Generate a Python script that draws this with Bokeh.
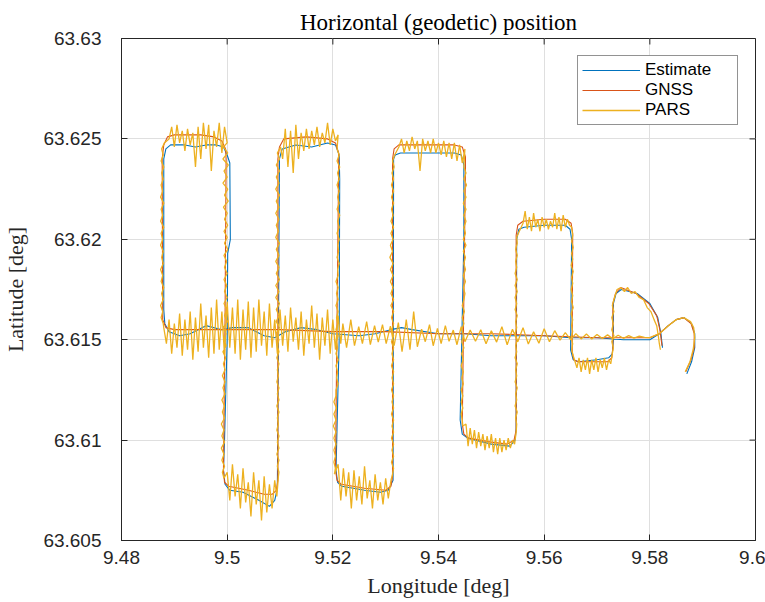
from bokeh.plotting import figure
from bokeh.models import FixedTicker, CustomJSTickFormatter, Legend, LegendItem
from bokeh.embed import file_html
from bokeh.resources import INLINE

# ---------------- data ----------------
x_ticks = [9.48, 9.50, 9.52, 9.54, 9.56, 9.58, 9.60]
y_ticks = [63.605, 63.61, 63.615, 63.62, 63.625, 63.63]
series_names = ["Estimate", "GNSS", "PARS"]

est_path = [
    (9.5870, 63.6133), (9.5879, 63.6139), (9.5885, 63.6146), (9.5885, 63.6153),
    (9.5879, 63.6158), (9.5865, 63.6161), (9.5850, 63.6160), (9.5835, 63.6157),
    (9.5818, 63.6153), (9.5800, 63.6150), (9.5750, 63.6150), (9.5700, 63.6151),
    (9.5650, 63.6151), (9.5600, 63.6152), (9.5550, 63.6152), (9.5500, 63.6152),
    (9.5450, 63.6153), (9.5400, 63.6153), (9.5350, 63.6155), (9.5330, 63.6156),
    (9.5310, 63.6155), (9.5280, 63.6153), (9.5250, 63.6152), (9.5200, 63.6153),
    (9.5170, 63.6155), (9.5140, 63.6156), (9.5110, 63.6154), (9.5090, 63.6151),
    (9.5070, 63.6152), (9.5040, 63.6156), (9.5010, 63.6156), (9.4990, 63.6155),
    (9.4960, 63.6157), (9.4930, 63.6153), (9.4910, 63.6152), (9.4890, 63.6154),
    (9.4882, 63.6158), (9.4880, 63.6165), (9.4880, 63.6240), (9.4884, 63.6245),
    (9.4893, 63.6247), (9.4920, 63.6247), (9.4940, 63.6246), (9.4960, 63.6247),
    (9.4980, 63.6247), (9.4993, 63.6246), (9.5000, 63.6242), (9.5005, 63.6238),
    (9.5006, 63.6200), (9.5001, 63.6193), (9.5000, 63.6150), (9.4995, 63.6100),
    (9.4993, 63.6085), (9.4996, 63.6078), (9.5005, 63.6075), (9.5030, 63.6074),
    (9.5060, 63.6070), (9.5080, 63.6067), (9.5090, 63.6070), (9.5095, 63.6076),
    (9.5097, 63.6150), (9.5099, 63.6240), (9.5104, 63.6245), (9.5130, 63.6247),
    (9.5160, 63.6246), (9.5190, 63.6248), (9.5205, 63.6247), (9.5212, 63.6242),
    (9.5213, 63.6230), (9.5212, 63.6150), (9.5206, 63.6085), (9.5209, 63.6079),
    (9.5217, 63.6077), (9.5260, 63.6075), (9.5290, 63.6074), (9.5305, 63.6075),
    (9.5314, 63.6080), (9.5315, 63.6240), (9.5318, 63.6242), (9.5328, 63.6243),
    (9.5380, 63.6243), (9.5430, 63.6243), (9.5443, 63.6242), (9.5448, 63.6237),
    (9.5448, 63.6200), (9.5441, 63.6110), (9.5445, 63.6103), (9.5455, 63.6101),
    (9.5500, 63.6098), (9.5535, 63.6097), (9.5545, 63.6100), (9.5547, 63.6106),
    (9.5548, 63.6200), (9.5552, 63.6205), (9.5562, 63.6206), (9.5600, 63.6207),
    (9.5640, 63.6207), (9.5649, 63.6205), (9.5652, 63.6200), (9.5650, 63.6145),
    (9.5655, 63.6140), (9.5665, 63.6139), (9.5700, 63.6140), (9.5722, 63.6141),
    (9.5729, 63.6143), (9.5731, 63.6150), (9.5731, 63.6168), (9.5736, 63.6173),
    (9.5746, 63.6175), (9.5776, 63.6173), (9.5800, 63.6168), (9.5815, 63.6161),
    (9.5821, 63.6153), (9.5824, 63.6146),
]

gnss_path = [
    (9.5868, 63.6134), (9.5878, 63.6140), (9.5884, 63.6146), (9.5884, 63.6153),
    (9.5878, 63.6158), (9.5864, 63.6161), (9.5850, 63.6160), (9.5835, 63.6157),
    (9.5818, 63.6153), (9.5800, 63.6151), (9.5700, 63.6151), (9.5600, 63.6152),
    (9.5500, 63.6153), (9.5400, 63.6153), (9.5300, 63.6154), (9.5200, 63.6154),
    (9.5100, 63.6155), (9.5000, 63.6155), (9.4900, 63.6155), (9.4884, 63.6156),
    (9.4878, 63.6160), (9.4877, 63.6240), (9.4880, 63.6247), (9.4887, 63.6251),
    (9.4900, 63.6252), (9.4950, 63.6252), (9.4975, 63.6251), (9.4990, 63.6249),
    (9.4997, 63.6245), (9.4998, 63.6240), (9.4996, 63.6160), (9.4993, 63.6085),
    (9.4995, 63.6079), (9.5003, 63.6077), (9.5040, 63.6075), (9.5070, 63.6073),
    (9.5085, 63.6073), (9.5093, 63.6075), (9.5096, 63.6080), (9.5096, 63.6240),
    (9.5099, 63.6246), (9.5107, 63.6250), (9.5150, 63.6251), (9.5190, 63.6250),
    (9.5205, 63.6248), (9.5211, 63.6243), (9.5211, 63.6236), (9.5205, 63.6085),
    (9.5208, 63.6080), (9.5216, 63.6078), (9.5260, 63.6076), (9.5300, 63.6075),
    (9.5310, 63.6077), (9.5313, 63.6082), (9.5313, 63.6240), (9.5316, 63.6245),
    (9.5325, 63.6247), (9.5380, 63.6247), (9.5430, 63.6247), (9.5445, 63.6246),
    (9.5451, 63.6241), (9.5451, 63.6235), (9.5445, 63.6108), (9.5448, 63.6103),
    (9.5457, 63.6101), (9.5500, 63.6099), (9.5530, 63.6098), (9.5543, 63.6100),
    (9.5547, 63.6105), (9.5547, 63.6202), (9.5550, 63.6207), (9.5560, 63.6209),
    (9.5600, 63.6210), (9.5640, 63.6210), (9.5651, 63.6208), (9.5654, 63.6203),
    (9.5653, 63.6144), (9.5656, 63.6140), (9.5664, 63.6139), (9.5700, 63.6139),
    (9.5720, 63.6139), (9.5728, 63.6141), (9.5730, 63.6146), (9.5730, 63.6168),
    (9.5735, 63.6173), (9.5745, 63.6176), (9.5774, 63.6173), (9.5798, 63.6168),
    (9.5813, 63.6162), (9.5819, 63.6155), (9.5823, 63.6147),
]

# PARS, segment by segment along the travelled path
pars_curve = [
    (9.5867, 63.6134), (9.5876, 63.6139), (9.5882, 63.6145), (9.5885, 63.6151),
    (9.5883, 63.6156), (9.5877, 63.6159), (9.5864, 63.6161), (9.5850, 63.6160),
    (9.5835, 63.6157), (9.5818, 63.6153), (9.5800, 63.6151),
]
pars_main_east = [
    (9.579, 63.61512), (9.578, 63.61518), (9.577, 63.61508), (9.576, 63.61520),
    (9.575, 63.61507), (9.574, 63.61522), (9.573, 63.61505), (9.572, 63.61524),
    (9.571, 63.61506), (9.570, 63.61526), (9.569, 63.61503), (9.568, 63.61528),
    (9.567, 63.61504), (9.566, 63.61530), (9.565, 63.61500), (9.564, 63.61535),
    (9.563, 63.61498), (9.562, 63.61545), (9.561, 63.61490), (9.560, 63.61555),
    (9.559, 63.61482), (9.558, 63.61540), (9.557, 63.61478), (9.556, 63.61560),
    (9.555, 63.61490), (9.554, 63.61552), (9.553, 63.61475), (9.552, 63.61565),
    (9.551, 63.61488), (9.550, 63.61545), (9.549, 63.61480), (9.548, 63.61550),
    (9.547, 63.61492), (9.546, 63.61548),
]
pars_main_mid = [
    (9.5450, 63.61490), (9.5443, 63.61565), (9.5435, 63.61475), (9.5428, 63.61548),
    (9.5420, 63.61492), (9.5413, 63.61570), (9.5405, 63.61480), (9.5398, 63.61556),
    (9.5390, 63.61470), (9.5383, 63.61575), (9.5375, 63.61490), (9.5368, 63.61552),
    (9.5360, 63.61465), (9.5353, 63.61640), (9.5346, 63.61450), (9.5339, 63.61600),
    (9.5331, 63.61440), (9.5324, 63.61585), (9.5316, 63.61470), (9.5309, 63.61568),
    (9.5301, 63.61480), (9.5294, 63.61575), (9.5286, 63.61488), (9.5279, 63.61570),
    (9.5271, 63.61475), (9.5264, 63.61590), (9.5256, 63.61480), (9.5249, 63.61565),
    (9.5241, 63.61470), (9.5234, 63.61600), (9.5226, 63.61460), (9.5219, 63.61580),
]
pars_main_west = [
    (9.5215, 63.61480), (9.5210, 63.61620), (9.5205, 63.61450), (9.5200, 63.61600),
    (9.5195, 63.61430), (9.5190, 63.61650), (9.5185, 63.61470), (9.5180, 63.61610),
    (9.5175, 63.61400), (9.5170, 63.61630), (9.5165, 63.61460), (9.5160, 63.61670),
    (9.5155, 63.61480), (9.5150, 63.61600), (9.5145, 63.61420), (9.5140, 63.61640),
    (9.5135, 63.61450), (9.5130, 63.61610), (9.5125, 63.61490), (9.5120, 63.61660),
    (9.5115, 63.61440), (9.5110, 63.61620), (9.5105, 63.61470), (9.5100, 63.61650),
    (9.5095, 63.61430), (9.5090, 63.61600), (9.5085, 63.61460), (9.5080, 63.61680),
    (9.5075, 63.61420), (9.5070, 63.61640), (9.5065, 63.61470), (9.5060, 63.61700),
    (9.5055, 63.61440), (9.5050, 63.61660), (9.5045, 63.61410), (9.5040, 63.61690),
    (9.5035, 63.61450), (9.5030, 63.61650), (9.5025, 63.61400), (9.5020, 63.61700),
    (9.5015, 63.61430), (9.5010, 63.61660), (9.5005, 63.61460), (9.5000, 63.61690),
    (9.4995, 63.61420), (9.4990, 63.61640), (9.4985, 63.61450), (9.4980, 63.61700),
    (9.4975, 63.61430), (9.4970, 63.61660), (9.4965, 63.61410), (9.4960, 63.61620),
    (9.4955, 63.61460), (9.4950, 63.61680), (9.4945, 63.61440), (9.4940, 63.61610),
    (9.4935, 63.61400), (9.4930, 63.61640), (9.4925, 63.61450), (9.4920, 63.61600),
    (9.4915, 63.61420), (9.4910, 63.61630), (9.4905, 63.61460), (9.4900, 63.61580),
    (9.4895, 63.61430), (9.4890, 63.61600), (9.4885, 63.61480), (9.4880, 63.61560),
]

# vertical legs: lat samples and the jittering lon read along each leg
pars_v1_lat = [63.6158, 63.6161, 63.6164, 63.6167, 63.6170, 63.6173, 63.6176, 63.6179,
               63.6182, 63.6185, 63.6188, 63.6191, 63.6194, 63.6197, 63.6200, 63.6203,
               63.6206, 63.6209, 63.6212, 63.6215, 63.6218, 63.6221, 63.6224, 63.6227,
               63.6230, 63.6233, 63.6236, 63.6239, 63.6242, 63.6245, 63.6248]
pars_v1_lon = [9.4879, 9.4875, 9.4878, 9.4874, 9.4879, 9.4876, 9.4880, 9.4875,
               9.4878, 9.4874, 9.4879, 9.4876, 9.4879, 9.4874, 9.4878, 9.4875,
               9.4880, 9.4874, 9.4878, 9.4875, 9.4880, 9.4874, 9.4878, 9.4875,
               9.4879, 9.4876, 9.4880, 9.4875, 9.4879, 9.4876, 9.4881]

pars_v2_lat = [63.6246, 63.6243, 63.6240, 63.6237, 63.6234, 63.6231, 63.6228, 63.6225,
               63.6222, 63.6219, 63.6216, 63.6213, 63.6210, 63.6207, 63.6204, 63.6201,
               63.6198, 63.6195, 63.6192, 63.6189, 63.6186, 63.6183, 63.6180, 63.6177,
               63.6174, 63.6171, 63.6168, 63.6165, 63.6162, 63.6159, 63.6156, 63.6153,
               63.6150, 63.6147, 63.6144, 63.6141, 63.6138, 63.6135, 63.6132, 63.6129,
               63.6126, 63.6123, 63.6120, 63.6117, 63.6114, 63.6111, 63.6108, 63.6105,
               63.6102, 63.6099, 63.6096, 63.6093, 63.6090, 63.6087, 63.6084, 63.6081]
pars_v2_lon = [9.4993, 9.5001, 9.4992, 9.5002, 9.4994, 9.5000, 9.4992, 9.5001,
               9.4995, 9.5002, 9.4993, 9.5000, 9.4995, 9.5001, 9.4994, 9.5000,
               9.4995, 9.5001, 9.4994, 9.4999, 9.4995, 9.5000, 9.4994, 9.4999,
               9.4995, 9.5000, 9.4994, 9.4999, 9.4995, 9.5000, 9.4993, 9.4998,
               9.4994, 9.4998, 9.4992, 9.4997, 9.4993, 9.4996, 9.4991, 9.4996,
               9.4992, 9.4996, 9.4990, 9.4995, 9.4991, 9.4995, 9.4989, 9.4994,
               9.4990, 9.4995, 9.4989, 9.4994, 9.4990, 9.4995, 9.4991, 9.4994]

pars_v3_lat = [63.6084, 63.6087, 63.6090, 63.6093, 63.6096, 63.6099, 63.6102, 63.6105,
               63.6108, 63.6111, 63.6114, 63.6117, 63.6120, 63.6123, 63.6126, 63.6129,
               63.6132, 63.6135, 63.6138, 63.6141, 63.6144, 63.6147, 63.6150, 63.6153,
               63.6156, 63.6159, 63.6162, 63.6165, 63.6168, 63.6171, 63.6174, 63.6177,
               63.6180, 63.6183, 63.6186, 63.6189, 63.6192, 63.6195, 63.6198, 63.6201,
               63.6204, 63.6207, 63.6210, 63.6213, 63.6216, 63.6219, 63.6222, 63.6225,
               63.6228, 63.6231, 63.6234, 63.6237, 63.6240, 63.6243, 63.6246]
pars_v3_lon = [9.5098, 9.5095, 9.5098, 9.5094, 9.5098, 9.5095, 9.5098, 9.5094,
               9.5097, 9.5095, 9.5098, 9.5094, 9.5098, 9.5095, 9.5098, 9.5094,
               9.5097, 9.5095, 9.5098, 9.5094, 9.5098, 9.5095, 9.5098, 9.5093,
               9.5099, 9.5093, 9.5098, 9.5093, 9.5099, 9.5092, 9.5098, 9.5092,
               9.5099, 9.5093, 9.5098, 9.5092, 9.5098, 9.5093, 9.5099, 9.5092,
               9.5097, 9.5093, 9.5098, 9.5092, 9.5098, 9.5093, 9.5099, 9.5092,
               9.5098, 9.5093, 9.5099, 9.5093, 9.5099, 9.5095, 9.5101]

pars_v4_lat = [63.6245, 63.6242, 63.6239, 63.6236, 63.6233, 63.6230, 63.6227, 63.6224,
               63.6221, 63.6218, 63.6215, 63.6212, 63.6209, 63.6206, 63.6203, 63.6200,
               63.6197, 63.6194, 63.6191, 63.6188, 63.6185, 63.6182, 63.6179, 63.6176,
               63.6173, 63.6170, 63.6167, 63.6164, 63.6161, 63.6158, 63.6155, 63.6152,
               63.6149, 63.6146, 63.6143, 63.6140, 63.6137, 63.6134, 63.6131, 63.6128,
               63.6125, 63.6122, 63.6119, 63.6116, 63.6113, 63.6110, 63.6107, 63.6104,
               63.6101, 63.6098, 63.6095, 63.6092, 63.6089, 63.6086, 63.6083]
pars_v4_lon = [9.5208, 9.5212, 9.5208, 9.5213, 9.5209, 9.5212, 9.5208, 9.5212,
               9.5209, 9.5212, 9.5208, 9.5213, 9.5209, 9.5212, 9.5208, 9.5212,
               9.5209, 9.5211, 9.5208, 9.5212, 9.5209, 9.5210, 9.5206, 9.5210,
               9.5207, 9.5210, 9.5206, 9.5210, 9.5207, 9.5209, 9.5206, 9.5210,
               9.5207, 9.5209, 9.5206, 9.5210, 9.5206, 9.5209, 9.5207, 9.5210,
               9.5206, 9.5206, 9.5202, 9.5207, 9.5202, 9.5206, 9.5201, 9.5206,
               9.5202, 9.5206, 9.5202, 9.5205, 9.5202, 9.5205, 9.5203]

pars_v5_lat = [63.6086, 63.6089, 63.6092, 63.6095, 63.6098, 63.6101, 63.6104, 63.6107,
               63.6110, 63.6113, 63.6116, 63.6119, 63.6122, 63.6125, 63.6128, 63.6131,
               63.6134, 63.6137, 63.6140, 63.6143, 63.6146, 63.6149, 63.6152, 63.6155,
               63.6158, 63.6161, 63.6164, 63.6167, 63.6170, 63.6173, 63.6176, 63.6179,
               63.6182, 63.6185, 63.6188, 63.6191, 63.6194, 63.6197, 63.6200, 63.6203,
               63.6206, 63.6209, 63.6212, 63.6215, 63.6218, 63.6221, 63.6224, 63.6227,
               63.6230, 63.6233, 63.6236, 63.6239, 63.6242]
pars_v5_lon = [9.5315, 9.5311, 9.5315, 9.5312, 9.5315, 9.5311, 9.5315, 9.5312,
               9.5315, 9.5311, 9.5315, 9.5312, 9.5315, 9.5311, 9.5315, 9.5312,
               9.5315, 9.5311, 9.5315, 9.5312, 9.5315, 9.5311, 9.5315, 9.5312,
               9.5315, 9.5311, 9.5315, 9.5310, 9.5315, 9.5310, 9.5314, 9.5309,
               9.5314, 9.5309, 9.5314, 9.5308, 9.5313, 9.5309, 9.5314, 9.5310,
               9.5315, 9.5310, 9.5314, 9.5311, 9.5315, 9.5311, 9.5315, 9.5311,
               9.5315, 9.5312, 9.5316, 9.5313, 9.5317]

pars_v6_lat = [63.6236, 63.6233, 63.6230, 63.6227, 63.6224, 63.6221, 63.6218, 63.6215,
               63.6212, 63.6209, 63.6206, 63.6203, 63.6200, 63.6197, 63.6194, 63.6191,
               63.6188, 63.6185, 63.6182, 63.6179, 63.6176, 63.6173, 63.6170, 63.6167,
               63.6164, 63.6161, 63.6158, 63.6155, 63.6152, 63.6149, 63.6146, 63.6143,
               63.6140, 63.6137, 63.6134, 63.6131, 63.6128, 63.6125, 63.6122, 63.6119,
               63.6116, 63.6113, 63.6110, 63.6107]
pars_v6_lon = [9.5448, 9.5452, 9.5448, 9.5453, 9.5448, 9.5452, 9.5447, 9.5452,
               9.5448, 9.5452, 9.5448, 9.5451, 9.5447, 9.5452, 9.5447, 9.5451,
               9.5448, 9.5451, 9.5447, 9.5451, 9.5447, 9.5450, 9.5448, 9.5445,
               9.5449, 9.5445, 9.5448, 9.5444, 9.5448, 9.5444, 9.5448, 9.5444,
               9.5447, 9.5443, 9.5447, 9.5444, 9.5447, 9.5443, 9.5446, 9.5443,
               9.5446, 9.5443, 9.5445, 9.5446]

pars_v7_lat = [63.6108, 63.6111, 63.6114, 63.6117, 63.6120, 63.6123, 63.6126, 63.6129,
               63.6132, 63.6135, 63.6138, 63.6141, 63.6144, 63.6147, 63.6150, 63.6153,
               63.6156, 63.6159, 63.6162, 63.6165, 63.6168, 63.6171, 63.6174, 63.6177,
               63.6180, 63.6183, 63.6186, 63.6189, 63.6192, 63.6195, 63.6198, 63.6201,
               63.6204]
pars_v7_lon = [9.5548, 9.5546, 9.5549, 9.5545, 9.5548, 9.5546, 9.5549, 9.5545,
               9.5548, 9.5546, 9.5549, 9.5545, 9.5548, 9.5546, 9.5549, 9.5545,
               9.5548, 9.5546, 9.5549, 9.5545, 9.5548, 9.5545, 9.5549, 9.5545,
               9.5549, 9.5545, 9.5548, 9.5546, 9.5549, 9.5546, 9.5549, 9.5548,
               9.5553]

pars_v8_lat = [63.6202, 63.6199, 63.6196, 63.6193, 63.6190, 63.6187, 63.6184, 63.6181,
               63.6178, 63.6175, 63.6172, 63.6169, 63.6166, 63.6163, 63.6160, 63.6157,
               63.6154, 63.6151, 63.6148, 63.6145, 63.6142]
pars_v8_lon = [9.5654, 9.5652, 9.5655, 9.5652, 9.5654, 9.5651, 9.5655, 9.5652,
               9.5654, 9.5651, 9.5654, 9.5652, 9.5655, 9.5651, 9.5654, 9.5652,
               9.5654, 9.5651, 9.5654, 9.5652, 9.5655]

pars_v9_lat = [63.6146, 63.6149, 63.6152, 63.6155, 63.6158, 63.6161, 63.6164, 63.6167, 63.6170]
pars_v9_lon = [9.5731, 9.5728, 9.5732, 9.5728, 9.5731, 9.5728, 9.5732, 9.5729, 9.5732]

pars_top1 = [
    (9.4890, 63.6250), (9.4895, 63.6256), (9.4900, 63.6246), (9.4905, 63.6257),
    (9.4910, 63.6248), (9.4915, 63.6254), (9.4920, 63.6244), (9.4925, 63.6255),
    (9.4930, 63.6247), (9.4935, 63.6253), (9.4940, 63.6236), (9.4945, 63.6256),
    (9.4950, 63.6240), (9.4955, 63.6258), (9.4960, 63.6245), (9.4965, 63.6257),
    (9.4970, 63.6234), (9.4975, 63.6254), (9.4980, 63.6246), (9.4985, 63.6258),
    (9.4990, 63.6243), (9.4995, 63.6256), (9.5000, 63.6248),
]
pars_bot1 = [
    (9.5000, 63.6084), (9.5005, 63.6070), (9.5010, 63.6088), (9.5015, 63.6072),
    (9.5020, 63.6083), (9.5025, 63.6066), (9.5030, 63.6086), (9.5035, 63.6069),
    (9.5040, 63.6079), (9.5045, 63.6062), (9.5050, 63.6084), (9.5055, 63.6068),
    (9.5060, 63.6080), (9.5065, 63.6060), (9.5070, 63.6082), (9.5075, 63.6064),
    (9.5080, 63.6078), (9.5085, 63.6066), (9.5090, 63.6080), (9.5094, 63.6072),
    (9.5097, 63.6082),
]
pars_top2 = [
    (9.5105, 63.6240), (9.5110, 63.6255), (9.5115, 63.6236), (9.5120, 63.6254),
    (9.5125, 63.6233), (9.5130, 63.6257), (9.5135, 63.6240), (9.5140, 63.6253),
    (9.5145, 63.6244), (9.5150, 63.6255), (9.5155, 63.6245), (9.5160, 63.6254),
    (9.5165, 63.6247), (9.5170, 63.6256), (9.5175, 63.6246), (9.5180, 63.6253),
    (9.5185, 63.6248), (9.5190, 63.6258), (9.5195, 63.6247), (9.5200, 63.6255),
    (9.5205, 63.6249), (9.5210, 63.6252),
]
pars_bot2 = [
    (9.5210, 63.6088), (9.5215, 63.6070), (9.5220, 63.6086), (9.5225, 63.6072),
    (9.5230, 63.6084), (9.5235, 63.6066), (9.5240, 63.6085), (9.5245, 63.6070),
    (9.5250, 63.6082), (9.5255, 63.6068), (9.5260, 63.6087), (9.5265, 63.6071),
    (9.5270, 63.6080), (9.5275, 63.6066), (9.5280, 63.6083), (9.5285, 63.6070),
    (9.5290, 63.6079), (9.5295, 63.6068), (9.5300, 63.6081), (9.5305, 63.6071),
    (9.5310, 63.6080), (9.5313, 63.6083),
]
pars_top3 = [
    (9.5325, 63.6246), (9.5330, 63.6250), (9.5335, 63.6243), (9.5340, 63.6249),
    (9.5345, 63.6244), (9.5350, 63.6251), (9.5355, 63.6245), (9.5360, 63.6249),
    (9.5365, 63.6234), (9.5370, 63.6250), (9.5375, 63.6244), (9.5380, 63.6249),
    (9.5385, 63.6243), (9.5390, 63.6250), (9.5395, 63.6243), (9.5400, 63.6248),
    (9.5405, 63.6242), (9.5410, 63.6249), (9.5415, 63.6241), (9.5420, 63.6248),
    (9.5425, 63.6240), (9.5430, 63.6248), (9.5435, 63.6239), (9.5440, 63.6247),
    (9.5445, 63.6238), (9.5450, 63.6245),
]
pars_bot3 = [
    (9.5452, 63.6108), (9.5456, 63.6097), (9.5460, 63.6106), (9.5464, 63.6098),
    (9.5468, 63.6105), (9.5472, 63.6096), (9.5476, 63.6104), (9.5480, 63.6097),
    (9.5484, 63.6103), (9.5488, 63.6095), (9.5492, 63.6102), (9.5496, 63.6096),
    (9.5500, 63.6103), (9.5504, 63.6094), (9.5508, 63.6101), (9.5512, 63.6093),
    (9.5516, 63.6101), (9.5520, 63.6094), (9.5524, 63.6100), (9.5528, 63.6095),
    (9.5532, 63.6101), (9.5536, 63.6096), (9.5540, 63.6100), (9.5544, 63.6098),
    (9.5547, 63.6104),
]
pars_top4 = [
    (9.5560, 63.6208), (9.5564, 63.6214), (9.5568, 63.6205), (9.5572, 63.6211),
    (9.5576, 63.6204), (9.5580, 63.6213), (9.5584, 63.6206), (9.5588, 63.6210),
    (9.5592, 63.6204), (9.5596, 63.6211), (9.5600, 63.6206), (9.5604, 63.6210),
    (9.5608, 63.6205), (9.5612, 63.6209), (9.5616, 63.6206), (9.5620, 63.6213),
    (9.5624, 63.6205), (9.5628, 63.6211), (9.5632, 63.6204), (9.5636, 63.6212),
    (9.5640, 63.6206), (9.5644, 63.6210), (9.5648, 63.6207), (9.5652, 63.6206),
]
pars_bot4 = [
    (9.5662, 63.6136), (9.5666, 63.6141), (9.5670, 63.6134), (9.5674, 63.6140),
    (9.5678, 63.6135), (9.5682, 63.6141), (9.5686, 63.6133), (9.5690, 63.6140),
    (9.5694, 63.6135), (9.5698, 63.6141), (9.5702, 63.6134), (9.5706, 63.6140),
    (9.5710, 63.6136), (9.5714, 63.6141), (9.5718, 63.6135), (9.5722, 63.6140),
    (9.5726, 63.6138), (9.5729, 63.6143),
]
pars_end = [
    (9.5738, 63.6175), (9.5745, 63.6176), (9.5752, 63.6174), (9.5758, 63.6176),
    (9.5765, 63.6173), (9.5772, 63.6174), (9.5780, 63.6171), (9.5788, 63.6170),
    (9.5795, 63.6166), (9.5802, 63.6164), (9.5808, 63.6160), (9.5813, 63.6157),
    (9.5816, 63.6152), (9.5818, 63.6148), (9.5820, 63.6145),
]


def leg(lons, lats):
    return list(zip(lons, lats))


pars_segments = [pars_curve, pars_main_east, pars_main_mid, pars_main_west,
                 leg(pars_v1_lon, pars_v1_lat), pars_top1,
                 leg(pars_v2_lon, pars_v2_lat), pars_bot1,
                 leg(pars_v3_lon, pars_v3_lat), pars_top2,
                 leg(pars_v4_lon, pars_v4_lat), pars_bot2,
                 leg(pars_v5_lon, pars_v5_lat), pars_top3,
                 leg(pars_v6_lon, pars_v6_lat), pars_bot3,
                 leg(pars_v7_lon, pars_v7_lat), pars_top4,
                 leg(pars_v8_lon, pars_v8_lat), pars_bot4,
                 leg(pars_v9_lon, pars_v9_lat), pars_end]

est_lon = [q[0] for q in est_path]
est_lat = [q[1] for q in est_path]
gnss_lon = [q[0] for q in gnss_path]
gnss_lat = [q[1] for q in gnss_path]
pars_lon = [q[0] for seg in pars_segments for q in seg]
pars_lat = [q[1] for seg in pars_segments for q in seg]

# ---------------- styles ----------------
AX = "#262626"
GRID = "#dfdfdf"
COLORS = ["#0072BD", "#D95319", "#EDB120"]
SANS = "Liberation Sans"
SERIF = "Liberation Serif"
X0, X1 = x_ticks[0], x_ticks[-1]
Y0, Y1 = y_ticks[0], y_ticks[-1]
FRAME_W, FRAME_H = 636, 502
TICK_PX = 6

p = figure(width=765, height=602, output_backend="svg", toolbar_location=None,
           x_range=(X0, X1), y_range=(Y0, Y1),
           min_border_left=119, min_border_right=10,
           min_border_top=38, min_border_bottom=62,
           background_fill_color="white", border_fill_color="white")

p.title.text = "Horizontal (geodetic) position"
p.title.align = "center"
p.title.text_font = SERIF
p.title.text_font_size = "23px"
p.title.text_font_style = "normal"
p.title.text_color = "black"
p.title.standoff = 8

p.outline_line_color = AX
p.outline_line_width = 1
p.outline_line_alpha = 1

fmt = CustomJSTickFormatter(code="return String(Number(tick.toFixed(4)));")

p.xaxis.ticker = FixedTicker(ticks=x_ticks)
p.yaxis.ticker = FixedTicker(ticks=y_ticks)
p.xaxis.formatter = fmt
p.yaxis.formatter = fmt
p.xaxis.axis_label = "Longitude [deg]"
p.yaxis.axis_label = "Latitude [deg]"
for ax in (p.xaxis[0], p.yaxis[0]):
    ax.axis_line_color = AX
    ax.major_tick_line_color = AX
    ax.major_tick_in = TICK_PX
    ax.major_tick_out = 0
    ax.minor_tick_line_color = None
    ax.major_label_text_font = SANS
    ax.major_label_text_font_size = "19px"
    ax.major_label_text_color = AX
    ax.axis_label_text_font = SERIF
    ax.axis_label_text_font_size = "22px"
    ax.axis_label_text_font_style = "normal"
    ax.axis_label_text_color = AX
p.xaxis.major_label_standoff = 10
p.yaxis.major_label_standoff = 20
p.xaxis.axis_label_standoff = 6
p.yaxis.axis_label_standoff = 12

p.xgrid.ticker = FixedTicker(ticks=x_ticks)
p.ygrid.ticker = FixedTicker(ticks=y_ticks)
p.grid.grid_line_color = GRID
p.grid.grid_line_width = 1

# mirrored inward ticks on the top and right edges (box on)
dy_tick = (Y1 - Y0) / FRAME_H * TICK_PX
dx_tick = (X1 - X0) / FRAME_W * TICK_PX
p.segment(x0=x_ticks, y0=[Y1] * len(x_ticks), x1=x_ticks, y1=[Y1 - dy_tick] * len(x_ticks),
          line_color=AX, line_width=1)
p.segment(x0=[X1] * len(y_ticks), y0=y_ticks, x1=[X1 - dx_tick] * len(y_ticks), y1=y_ticks,
          line_color=AX, line_width=1)

r_est = p.line(est_lon, est_lat, line_color=COLORS[0], line_width=1.1)
r_gnss = p.line(gnss_lon, gnss_lat, line_color=COLORS[1], line_width=1.1)
r_pars = p.line(pars_lon, pars_lat, line_color=COLORS[2], line_width=1.3)

legend = Legend(items=[LegendItem(label=series_names[0], renderers=[r_est]),
                       LegendItem(label=series_names[1], renderers=[r_gnss]),
                       LegendItem(label=series_names[2], renderers=[r_pars])],
                location="top_right")
legend.label_text_font = SANS
legend.label_text_font_size = "17px"
legend.label_text_color = "black"
legend.border_line_color = AX
legend.border_line_width = 1
legend.background_fill_color = "white"
legend.background_fill_alpha = 1
legend.glyph_width = 58
legend.glyph_height = 20
legend.label_height = 20
legend.label_width = 88
legend.label_standoff = 5
legend.spacing = 0
legend.padding = 4
legend.margin = 17
p.add_layout(legend)

open("out.html", "w").write(file_html(p, INLINE))
